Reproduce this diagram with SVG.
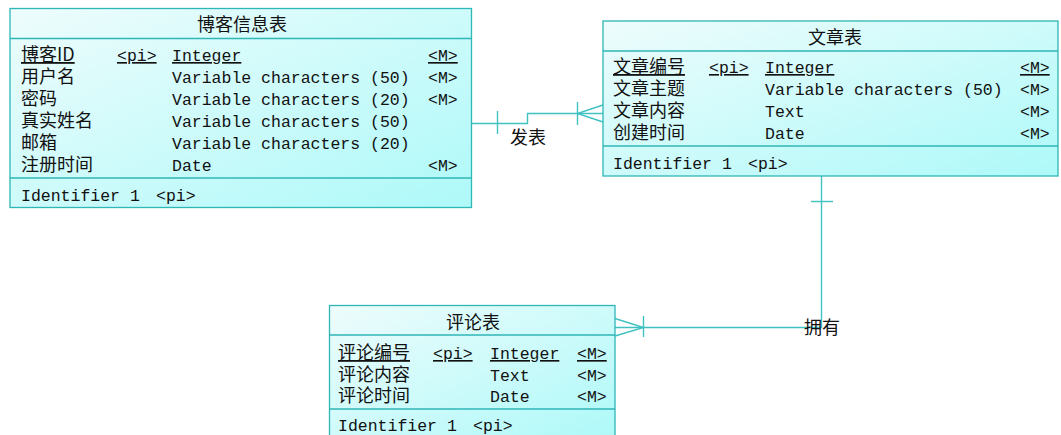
<svg xmlns="http://www.w3.org/2000/svg" width="1061" height="435" viewBox="0 0 1061 435">
<defs>
<linearGradient id="g" x1="0" y1="0" x2="1" y2="1">
<stop offset="0" stop-color="#eefcfc"/>
<stop offset="1" stop-color="#aef9f9"/>
</linearGradient>
<style>
.box{fill:url(#g);stroke:#2fb6b6;stroke-width:1.3}
.div{stroke:#2fb6b6;stroke-width:1.3}
.c{font-family:"Noto Sans CJK SC",sans-serif;font-size:18px;fill:#111}
.m{font-family:"Liberation Mono","Noto Sans CJK SC",monospace;font-size:16.5px;fill:#111}
.u{text-decoration:underline}
.ttl{text-anchor:middle}
.ln{fill:none;stroke:#40c2c2;stroke-width:1.4}
</style>
</defs>

<g id="connectors">
<polyline class="ln" points="471.5,123.5 527.5,123.5 527.5,113.5 603,113.5"/>
<line class="ln" x1="497.5" y1="111" x2="497.5" y2="134"/>
<line class="ln" x1="577.5" y1="102" x2="577.5" y2="125"/>
<polyline class="ln" points="603,105 577.5,113.5 603,122"/>
<text class="c" x="528" y="144" text-anchor="middle">发表</text>

<polyline class="ln" points="821.5,176 821.5,327.5 615,327.5"/>
<line class="ln" x1="811" y1="201.5" x2="833" y2="201.5"/>
<line class="ln" x1="643.5" y1="316" x2="643.5" y2="337"/>
<polyline class="ln" points="615,318.5 643.5,327.5 615,336"/>
<text class="c" x="822" y="334" text-anchor="middle">拥有</text>
</g>

<g id="blog">
<rect class="box" x="10" y="8.5" width="461.5" height="199"/>
<line class="div" x1="10" y1="38.5" x2="471.5" y2="38.5"/>
<line class="div" x1="10" y1="178" x2="471.5" y2="178"/>
<text class="c ttl" x="242" y="31">博客信息表</text>
<text class="c u" x="21" y="61">博客ID</text>
<text class="m u" x="117" y="61">&lt;pi&gt;</text>
<text class="m u" x="172" y="61">Integer</text>
<text class="m u" x="428" y="61">&lt;M&gt;</text>
<text class="c" x="21" y="83">用户名</text>
<text class="m" x="172" y="83">Variable characters (50)</text>
<text class="m" x="428" y="83">&lt;M&gt;</text>
<text class="c" x="21" y="105">密码</text>
<text class="m" x="172" y="105">Variable characters (20)</text>
<text class="m" x="428" y="105">&lt;M&gt;</text>
<text class="c" x="21" y="127">真实姓名</text>
<text class="m" x="172" y="127">Variable characters (50)</text>
<text class="c" x="21" y="149">邮箱</text>
<text class="m" x="172" y="149">Variable characters (20)</text>
<text class="c" x="21" y="171">注册时间</text>
<text class="m" x="172" y="171">Date</text>
<text class="m" x="428" y="171">&lt;M&gt;</text>
<text class="m" x="21" y="201">Identifier 1</text>
<text class="m" x="156" y="201">&lt;pi&gt;</text>
</g>

<g id="article">
<rect class="box" x="603" y="21" width="455" height="155"/>
<line class="div" x1="603" y1="51" x2="1058" y2="51"/>
<line class="div" x1="603" y1="146" x2="1058" y2="146"/>
<text class="c ttl" x="835" y="44">文章表</text>
<text class="c u" x="613" y="73">文章编号</text>
<text class="m u" x="709" y="73">&lt;pi&gt;</text>
<text class="m u" x="765" y="73">Integer</text>
<text class="m u" x="1020" y="73">&lt;M&gt;</text>
<text class="c" x="613" y="95">文章主题</text>
<text class="m" x="765" y="95">Variable characters (50)</text>
<text class="m" x="1020" y="95">&lt;M&gt;</text>
<text class="c" x="613" y="117">文章内容</text>
<text class="m" x="765" y="117">Text</text>
<text class="m" x="1020" y="117">&lt;M&gt;</text>
<text class="c" x="613" y="139">创建时间</text>
<text class="m" x="765" y="139">Date</text>
<text class="m" x="1020" y="139">&lt;M&gt;</text>
<text class="m" x="613" y="169">Identifier 1</text>
<text class="m" x="748" y="169">&lt;pi&gt;</text>
</g>

<g id="comment">
<rect class="box" x="329.5" y="305.5" width="285.5" height="135"/>
<line class="div" x1="329.5" y1="335" x2="615" y2="335"/>
<line class="div" x1="329.5" y1="409" x2="615" y2="409"/>
<text class="c ttl" x="473" y="329">评论表</text>
<text class="c u" x="338" y="359">评论编号</text>
<text class="m u" x="433" y="359">&lt;pi&gt;</text>
<text class="m u" x="490" y="359">Integer</text>
<text class="m u" x="577" y="359">&lt;M&gt;</text>
<text class="c" x="338" y="381">评论内容</text>
<text class="m" x="490" y="381">Text</text>
<text class="m" x="577" y="381">&lt;M&gt;</text>
<text class="c" x="338" y="402">评论时间</text>
<text class="m" x="490" y="402">Date</text>
<text class="m" x="577" y="402">&lt;M&gt;</text>
<text class="m" x="338" y="431">Identifier 1</text>
<text class="m" x="473" y="431">&lt;pi&gt;</text>
</g>
</svg>
